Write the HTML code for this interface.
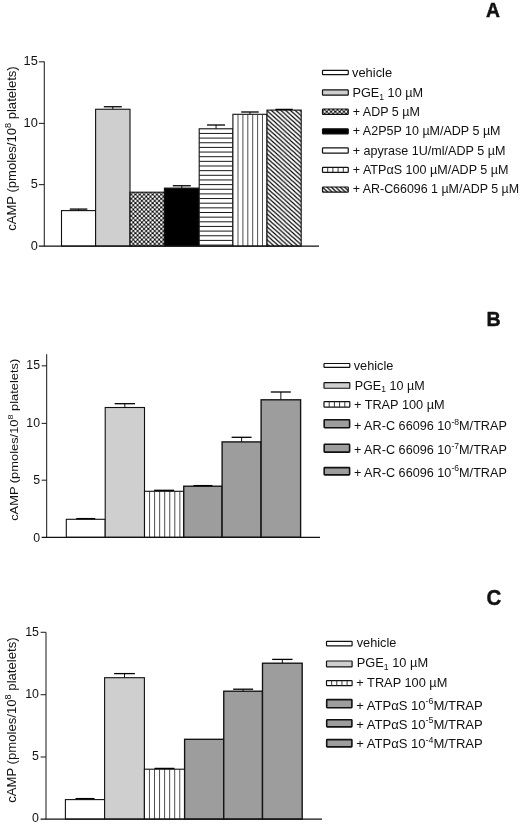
<!DOCTYPE html>
<html lang="en"><head><meta charset="utf-8"><title>cAMP figure</title>
<style>html,body{margin:0;padding:0;background:#fff;}svg{display:block;}text{font-family:'Liberation Sans', sans-serif;fill:#111;}</style>
</head><body>
<svg width="520" height="824" viewBox="0 0 520 824">
<defs>
<pattern id="xh" x="133.3" y="194.5" width="4.3" height="4.3" patternUnits="userSpaceOnUse"><rect width="4.3" height="4.3" fill="#000"/><g fill="#fff"><circle cx="0" cy="0" r="1.24"/><circle cx="4.3" cy="0" r="1.24"/><circle cx="0" cy="4.3" r="1.24"/><circle cx="4.3" cy="4.3" r="1.24"/><circle cx="2.15" cy="2.15" r="1.24"/></g></pattern>
<pattern id="xhL" x="324.6" y="111.7" width="4.3" height="4.3" patternUnits="userSpaceOnUse"><rect width="4.3" height="4.3" fill="#000"/><g fill="#fff"><circle cx="0" cy="0" r="1.2"/><circle cx="4.3" cy="0" r="1.2"/><circle cx="0" cy="4.3" r="1.2"/><circle cx="4.3" cy="4.3" r="1.2"/><circle cx="2.15" cy="2.15" r="1.2"/></g></pattern>
<pattern id="dg" x="271.15" y="110.1" width="4.75" height="4.3" patternUnits="userSpaceOnUse"><rect width="4.75" height="4.3" fill="#fff"/><path d="M-4.75,-4.3 L9.5,8.6 M-4.75,0 L4.75,8.6 M0,-4.3 L9.5,4.3" stroke="#000" stroke-width="1.12" fill="none"/></pattern>
<pattern id="dgL" x="322.5" y="187.0" width="4.4" height="4.3" patternUnits="userSpaceOnUse"><rect width="4.4" height="4.3" fill="#fff"/><path d="M-4.4,-4.3 L8.8,8.6 M-4.4,0 L4.4,8.6 M0,-4.3 L8.8,4.3" stroke="#000" stroke-width="1.3" fill="none"/></pattern>
</defs>
<rect width="520" height="824" fill="#fff"/>
<g id="panelA">
<rect x="61.50" y="210.60" width="34.10" height="35.50" fill="#fff" stroke="#111" stroke-width="1.1" />
<rect x="95.60" y="109.25" width="34.40" height="136.85" fill="#cfcfcf" stroke="#111" stroke-width="1.1" />
<rect x="130.00" y="192.20" width="34.40" height="53.90" fill="url(#xh)" stroke="#111" stroke-width="1.1" />
<rect x="164.40" y="188.10" width="34.80" height="58.00" fill="#000" stroke="#111" stroke-width="1.1" />
<rect x="199.20" y="128.80" width="33.70" height="117.30" fill="#fff" stroke="#111" stroke-width="1.1" />
<path d="M199.20,133.45H232.90M199.20,138.10H232.90M199.20,142.75H232.90M199.20,147.40H232.90M199.20,152.05H232.90M199.20,156.70H232.90M199.20,161.35H232.90M199.20,166.00H232.90M199.20,170.65H232.90M199.20,175.30H232.90M199.20,179.95H232.90M199.20,184.60H232.90M199.20,189.25H232.90M199.20,193.90H232.90M199.20,198.55H232.90M199.20,203.20H232.90M199.20,207.85H232.90M199.20,212.50H232.90M199.20,217.15H232.90M199.20,221.80H232.90M199.20,226.45H232.90M199.20,231.10H232.90M199.20,235.75H232.90M199.20,240.40H232.90M199.20,245.05H232.90" stroke="#1a1a1a" stroke-width="1.0" fill="none"/>
<rect x="232.90" y="114.30" width="34.10" height="131.80" fill="#fff" stroke="#111" stroke-width="1.1" />
<path d="M238.00,114.30V246.10M242.90,114.30V246.10M247.80,114.30V246.10M252.70,114.30V246.10M257.60,114.30V246.10M262.50,114.30V246.10" stroke="#222" stroke-width="0.8" fill="none"/>
<rect x="267.00" y="110.10" width="34.20" height="136.00" fill="url(#dg)" stroke="#111" stroke-width="1.1" />
<line x1="78.55" y1="209.10" x2="78.55" y2="210.60" stroke="#111" stroke-width="1.0"/>
<line x1="69.75" y1="209.10" x2="87.35" y2="209.10" stroke="#000" stroke-width="1.3"/>
<line x1="112.80" y1="106.75" x2="112.80" y2="109.25" stroke="#111" stroke-width="1.0"/>
<line x1="103.80" y1="106.75" x2="121.80" y2="106.75" stroke="#000" stroke-width="1.3"/>
<line x1="181.80" y1="185.75" x2="181.80" y2="188.10" stroke="#111" stroke-width="1.0"/>
<line x1="172.80" y1="185.75" x2="190.80" y2="185.75" stroke="#000" stroke-width="1.3"/>
<line x1="216.05" y1="125.00" x2="216.05" y2="128.80" stroke="#111" stroke-width="1.0"/>
<line x1="207.05" y1="125.00" x2="225.05" y2="125.00" stroke="#000" stroke-width="1.3"/>
<line x1="249.95" y1="112.00" x2="249.95" y2="114.30" stroke="#111" stroke-width="1.0"/>
<line x1="241.15" y1="112.00" x2="258.75" y2="112.00" stroke="#000" stroke-width="1.3"/>
<line x1="284.10" y1="109.40" x2="284.10" y2="110.10" stroke="#111" stroke-width="1.0"/>
<line x1="275.40" y1="109.40" x2="292.80" y2="109.40" stroke="#000" stroke-width="1.3"/>
<line x1="44.30" y1="61.50" x2="44.30" y2="246.60" stroke="#2a2a2a" stroke-width="1.1"/>
<line x1="38.90" y1="246.10" x2="319.00" y2="246.10" stroke="#111" stroke-width="1.2"/>
<line x1="38.90" y1="61.80" x2="44.30" y2="61.80" stroke="#2a2a2a" stroke-width="1.1"/>
<text x="37.80" y="65.30" font-size="12.8" text-anchor="end" font-weight="normal" >15</text>
<line x1="38.90" y1="123.40" x2="44.30" y2="123.40" stroke="#2a2a2a" stroke-width="1.1"/>
<text x="37.80" y="126.50" font-size="12.8" text-anchor="end" font-weight="normal" >10</text>
<line x1="38.90" y1="184.60" x2="44.30" y2="184.60" stroke="#2a2a2a" stroke-width="1.1"/>
<text x="37.80" y="188.10" font-size="12.8" text-anchor="end" font-weight="normal" >5</text>
<text x="37.80" y="249.90" font-size="12.8" text-anchor="end" font-weight="normal" >0</text>
<text transform="translate(15.70,230.80) rotate(-90) scale(1.0206,1)" font-size="12.8">cAMP (pmoles/10<tspan dy="-5.12" font-size="8.96">8</tspan><tspan dy="5.12"> platelets)</tspan></text>
<rect x="322.50" y="70.40" width="25.75" height="4.30" fill="#fff" stroke="#111" stroke-width="1.2" rx="0.6"/>
<text transform="translate(351.99,76.70) scale(1.0237,1)" font-size="12.6">vehicle</text>
<rect x="322.50" y="89.80" width="25.75" height="5.40" fill="#cfcfcf" stroke="#111" stroke-width="1.2" rx="0.6"/>
<text transform="translate(352.50,96.75) scale(1.0072,1)" font-size="12.6">PGE<tspan dy="2.77" font-size="8.57">1</tspan><tspan dy="-2.77"> 10 µM</tspan></text>
<rect x="322.50" y="109.00" width="25.75" height="5.40" fill="url(#xhL)" stroke="#111" stroke-width="1.2" rx="0.6"/>
<text transform="translate(352.75,115.75) scale(0.9924,1)" font-size="12.6">+ ADP 5 µM</text>
<rect x="322.50" y="128.85" width="25.75" height="5.05" fill="#000" stroke="#111" stroke-width="1.2" rx="0.6"/>
<text transform="translate(352.75,135.00) scale(0.9932,1)" font-size="12.6">+ A2P5P 10 µM/ADP 5 µM</text>
<rect x="322.50" y="147.90" width="25.75" height="5.20" fill="#fff" stroke="#111" stroke-width="1.2" rx="0.6"/>
<text transform="translate(352.75,154.50) scale(0.9984,1)" font-size="12.6">+ apyrase 1U/ml/ADP 5 µM</text>
<rect x="322.50" y="167.30" width="25.75" height="5.10" fill="#fff" stroke="#111" stroke-width="1.2" rx="0.6"/>
<path d="M327.70,167.30V172.40M332.90,167.30V172.40M338.10,167.30V172.40M343.30,167.30V172.40" stroke="#222" stroke-width="0.9" fill="none"/>
<text transform="translate(352.75,173.75) scale(0.9984,1)" font-size="12.6">+ ATPαS 100 µM/ADP 5 µM</text>
<rect x="322.50" y="187.00" width="25.75" height="5.10" fill="url(#dgL)" stroke="#111" stroke-width="1.2" rx="0.6"/>
<text transform="translate(352.76,192.50) scale(0.9865,1)" font-size="12.6">+ AR-C66096 1 µM/ADP 5 µM</text>
<text transform="translate(493.00,17.00) scale(1.0,1)" font-size="19.3" font-weight="bold" text-anchor="middle" stroke="#111" stroke-width="0.45">A</text>
</g>
<g id="panelB">
<rect x="66.30" y="519.30" width="38.90" height="18.00" fill="#fff" stroke="#111" stroke-width="1.1" />
<rect x="105.20" y="407.50" width="39.30" height="129.80" fill="#cfcfcf" stroke="#111" stroke-width="1.1" />
<rect x="144.50" y="491.30" width="39.25" height="46.00" fill="#fff" stroke="#111" stroke-width="1.1" />
<path d="M149.55,491.30V537.30M154.60,491.30V537.30M159.65,491.30V537.30M164.70,491.30V537.30M169.75,491.30V537.30M174.80,491.30V537.30M179.85,491.30V537.30" stroke="#222" stroke-width="0.8" fill="none"/>
<rect x="183.75" y="486.20" width="38.35" height="51.10" fill="#9d9d9d" stroke="#111" stroke-width="1.35" />
<rect x="222.10" y="441.90" width="39.00" height="95.40" fill="#9d9d9d" stroke="#111" stroke-width="1.35" />
<rect x="261.10" y="399.80" width="39.50" height="137.50" fill="#9d9d9d" stroke="#111" stroke-width="1.35" />
<line x1="85.75" y1="518.60" x2="85.75" y2="519.30" stroke="#111" stroke-width="1.0"/>
<line x1="76.25" y1="518.60" x2="95.25" y2="518.60" stroke="#000" stroke-width="1.3"/>
<line x1="124.85" y1="403.70" x2="124.85" y2="407.50" stroke="#111" stroke-width="1.0"/>
<line x1="114.65" y1="403.70" x2="135.05" y2="403.70" stroke="#000" stroke-width="1.3"/>
<line x1="164.12" y1="490.30" x2="164.12" y2="491.30" stroke="#111" stroke-width="1.0"/>
<line x1="154.12" y1="490.30" x2="174.12" y2="490.30" stroke="#000" stroke-width="1.3"/>
<line x1="202.93" y1="485.60" x2="202.93" y2="486.20" stroke="#111" stroke-width="1.0"/>
<line x1="193.43" y1="485.60" x2="212.43" y2="485.60" stroke="#000" stroke-width="1.3"/>
<line x1="241.60" y1="437.30" x2="241.60" y2="441.90" stroke="#111" stroke-width="1.0"/>
<line x1="231.60" y1="437.30" x2="251.60" y2="437.30" stroke="#000" stroke-width="1.3"/>
<line x1="280.85" y1="392.00" x2="280.85" y2="399.80" stroke="#111" stroke-width="1.0"/>
<line x1="270.85" y1="392.00" x2="290.85" y2="392.00" stroke="#000" stroke-width="1.3"/>
<line x1="46.65" y1="354.20" x2="46.65" y2="537.80" stroke="#2a2a2a" stroke-width="1.1"/>
<line x1="41.65" y1="537.30" x2="320.00" y2="537.30" stroke="#111" stroke-width="1.2"/>
<line x1="41.65" y1="365.80" x2="46.65" y2="365.80" stroke="#2a2a2a" stroke-width="1.1"/>
<text x="40.05" y="369.20" font-size="12.3" text-anchor="end" font-weight="normal" >15</text>
<line x1="41.65" y1="423.40" x2="46.65" y2="423.40" stroke="#2a2a2a" stroke-width="1.1"/>
<text x="40.05" y="427.00" font-size="12.3" text-anchor="end" font-weight="normal" >10</text>
<line x1="41.65" y1="480.20" x2="46.65" y2="480.20" stroke="#2a2a2a" stroke-width="1.1"/>
<text x="40.05" y="483.80" font-size="12.3" text-anchor="end" font-weight="normal" >5</text>
<text x="40.05" y="541.60" font-size="12.3" text-anchor="end" font-weight="normal" >0</text>
<text transform="translate(17.80,520.84) rotate(-90) scale(1.1103,1)" font-size="11.6">cAMP (pmoles/10<tspan dy="-4.64" font-size="8.12">8</tspan><tspan dy="4.64"> platelets)</tspan></text>
<rect x="324.00" y="363.50" width="25.80" height="3.90" fill="#fff" stroke="#111" stroke-width="1.2" rx="0.6"/>
<text transform="translate(353.69,369.70) scale(1.0132,1)" font-size="12.6">vehicle</text>
<rect x="324.00" y="382.70" width="25.80" height="5.55" fill="#cfcfcf" stroke="#111" stroke-width="1.2" rx="0.6"/>
<text transform="translate(354.70,389.50) scale(0.9971,1)" font-size="12.6">PGE<tspan dy="2.77" font-size="8.57">1</tspan><tspan dy="-2.77"> 10 µM</tspan></text>
<rect x="324.00" y="401.60" width="25.80" height="5.50" fill="#fff" stroke="#111" stroke-width="1.2" rx="0.6"/>
<path d="M329.20,401.60V407.10M334.40,401.60V407.10M339.60,401.60V407.10M344.80,401.60V407.10" stroke="#222" stroke-width="0.9" fill="none"/>
<text transform="translate(353.89,408.50) scale(1.0114,1)" font-size="12.6">+ TRAP 100 µM</text>
<rect x="324.20" y="419.70" width="25.40" height="8.00" fill="#9d9d9d" stroke="#111" stroke-width="1.6" rx="0.6"/>
<text transform="translate(353.90,429.60) scale(1.0060,1)" font-size="12.6">+ AR-C 66096 10<tspan dy="-5.04" font-size="8.57">-8</tspan><tspan dy="5.04">M/TRAP</tspan></text>
<rect x="324.20" y="444.30" width="25.40" height="7.80" fill="#9d9d9d" stroke="#111" stroke-width="1.6" rx="0.6"/>
<text transform="translate(353.90,454.00) scale(1.0060,1)" font-size="12.6">+ AR-C 66096 10<tspan dy="-5.04" font-size="8.57">-7</tspan><tspan dy="5.04">M/TRAP</tspan></text>
<rect x="324.20" y="467.60" width="25.40" height="7.25" fill="#9d9d9d" stroke="#111" stroke-width="1.6" rx="0.6"/>
<text transform="translate(353.90,476.50) scale(1.0060,1)" font-size="12.6">+ AR-C 66096 10<tspan dy="-5.04" font-size="8.57">-6</tspan><tspan dy="5.04">M/TRAP</tspan></text>
<text transform="translate(493.60,325.60) scale(0.945,1)" font-size="20.8" font-weight="bold" text-anchor="middle" stroke="#111" stroke-width="0.45">B</text>
</g>
<g id="panelC">
<rect x="65.40" y="799.60" width="39.20" height="19.50" fill="#fff" stroke="#111" stroke-width="1.1" />
<rect x="104.60" y="677.70" width="39.80" height="141.40" fill="#cfcfcf" stroke="#111" stroke-width="1.1" />
<rect x="144.40" y="769.20" width="40.20" height="49.90" fill="#fff" stroke="#111" stroke-width="1.1" />
<path d="M149.45,769.20V819.10M154.50,769.20V819.10M159.55,769.20V819.10M164.60,769.20V819.10M169.65,769.20V819.10M174.70,769.20V819.10M179.75,769.20V819.10" stroke="#222" stroke-width="0.8" fill="none"/>
<rect x="184.60" y="739.30" width="39.15" height="79.80" fill="#9d9d9d" stroke="#111" stroke-width="1.35" />
<rect x="223.75" y="691.20" width="38.75" height="127.90" fill="#9d9d9d" stroke="#111" stroke-width="1.35" />
<rect x="262.50" y="663.20" width="39.70" height="155.90" fill="#9d9d9d" stroke="#111" stroke-width="1.35" />
<line x1="85.00" y1="798.60" x2="85.00" y2="799.60" stroke="#111" stroke-width="1.0"/>
<line x1="75.50" y1="798.60" x2="94.50" y2="798.60" stroke="#000" stroke-width="1.3"/>
<line x1="124.50" y1="673.60" x2="124.50" y2="677.70" stroke="#111" stroke-width="1.0"/>
<line x1="114.10" y1="673.60" x2="134.90" y2="673.60" stroke="#000" stroke-width="1.3"/>
<line x1="164.50" y1="768.40" x2="164.50" y2="769.20" stroke="#111" stroke-width="1.0"/>
<line x1="154.50" y1="768.40" x2="174.50" y2="768.40" stroke="#000" stroke-width="1.3"/>
<line x1="243.12" y1="689.20" x2="243.12" y2="691.20" stroke="#111" stroke-width="1.0"/>
<line x1="233.12" y1="689.20" x2="253.12" y2="689.20" stroke="#000" stroke-width="1.3"/>
<line x1="282.35" y1="659.40" x2="282.35" y2="663.20" stroke="#111" stroke-width="1.0"/>
<line x1="272.15" y1="659.40" x2="292.55" y2="659.40" stroke="#000" stroke-width="1.3"/>
<line x1="46.00" y1="632.30" x2="46.00" y2="819.60" stroke="#2a2a2a" stroke-width="1.1"/>
<line x1="40.60" y1="819.10" x2="322.00" y2="819.10" stroke="#111" stroke-width="1.2"/>
<line x1="40.60" y1="632.30" x2="46.00" y2="632.30" stroke="#2a2a2a" stroke-width="1.1"/>
<text x="39.00" y="635.50" font-size="12.4" text-anchor="end" font-weight="normal" >15</text>
<line x1="40.60" y1="694.70" x2="46.00" y2="694.70" stroke="#2a2a2a" stroke-width="1.1"/>
<text x="39.00" y="697.90" font-size="12.4" text-anchor="end" font-weight="normal" >10</text>
<line x1="40.60" y1="757.00" x2="46.00" y2="757.00" stroke="#2a2a2a" stroke-width="1.1"/>
<text x="39.00" y="760.20" font-size="12.4" text-anchor="end" font-weight="normal" >5</text>
<text x="39.00" y="822.40" font-size="12.4" text-anchor="end" font-weight="normal" >0</text>
<text transform="translate(16.20,802.80) rotate(-90) scale(1.0352,1)" font-size="12.7">cAMP (pmoles/10<tspan dy="-5.08" font-size="8.89">8</tspan><tspan dy="5.08"> platelets)</tspan></text>
<rect x="326.50" y="641.45" width="25.60" height="4.35" fill="#fff" stroke="#111" stroke-width="1.2" rx="0.6"/>
<text transform="translate(356.70,647.20) scale(0.9875,1)" font-size="12.9">vehicle</text>
<rect x="326.50" y="661.00" width="25.60" height="5.80" fill="#cfcfcf" stroke="#111" stroke-width="1.2" rx="0.6"/>
<text transform="translate(356.71,667.20) scale(0.9943,1)" font-size="12.9">PGE<tspan dy="2.84" font-size="8.77">1</tspan><tspan dy="-2.84"> 10 µM</tspan></text>
<rect x="326.50" y="680.70" width="25.60" height="5.00" fill="#fff" stroke="#111" stroke-width="1.2" rx="0.6"/>
<path d="M331.65,680.70V685.70M336.80,680.70V685.70M341.95,680.70V685.70M347.10,680.70V685.70" stroke="#222" stroke-width="0.9" fill="none"/>
<text transform="translate(356.31,686.70) scale(0.9911,1)" font-size="12.9">+ TRAP 100 µM</text>
<rect x="326.70" y="699.65" width="25.20" height="8.05" fill="#9d9d9d" stroke="#111" stroke-width="1.6" rx="0.6"/>
<text transform="translate(356.29,709.50) scale(1.0114,1)" font-size="12.9">+ ATPαS 10<tspan dy="-5.16" font-size="8.77">-6</tspan><tspan dy="5.16">M/TRAP</tspan></text>
<rect x="326.70" y="719.80" width="25.20" height="7.10" fill="#9d9d9d" stroke="#111" stroke-width="1.6" rx="0.6"/>
<text transform="translate(356.29,728.60) scale(1.0114,1)" font-size="12.9">+ ATPαS 10<tspan dy="-5.16" font-size="8.77">-5</tspan><tspan dy="5.16">M/TRAP</tspan></text>
<rect x="326.70" y="739.65" width="25.20" height="7.25" fill="#9d9d9d" stroke="#111" stroke-width="1.6" rx="0.6"/>
<text transform="translate(356.29,747.80) scale(1.0114,1)" font-size="12.9">+ ATPαS 10<tspan dy="-5.16" font-size="8.77">-4</tspan><tspan dy="5.16">M/TRAP</tspan></text>
<text transform="translate(493.90,604.80) scale(0.93,1)" font-size="22" font-weight="bold" text-anchor="middle" stroke="#111" stroke-width="0.45">C</text>
</g>
</svg></body></html>
